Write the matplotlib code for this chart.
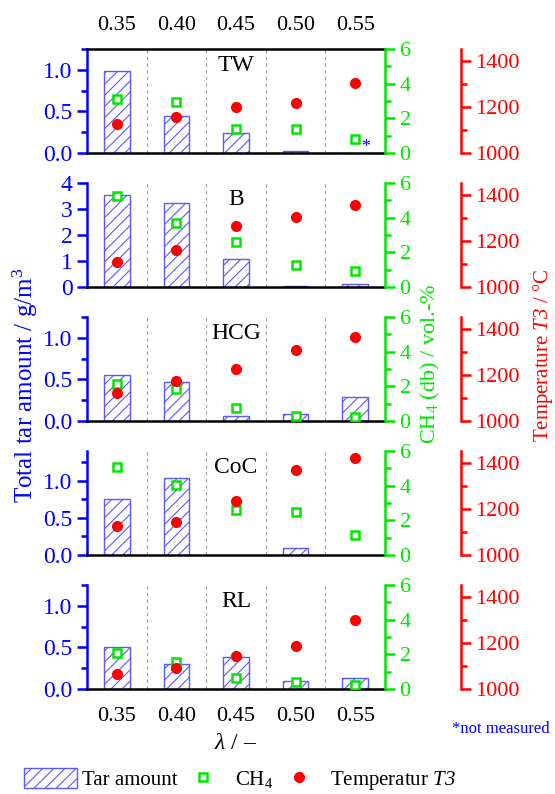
import matplotlib
matplotlib.use("Agg")
import matplotlib.pyplot as plt
import numpy as np
from matplotlib.patches import Patch
from matplotlib.lines import Line2D
from matplotlib.ticker import MultipleLocator

plt.rcParams['font.family'] = ['Liberation Serif', 'DejaVu Serif']
plt.rcParams['mathtext.fontset'] = 'custom'
plt.rcParams['mathtext.rm'] = 'Liberation Serif'
plt.rcParams['mathtext.it'] = 'Liberation Serif:italic'
plt.rcParams['mathtext.sf'] = 'Liberation Serif:italic'   # used for italic "T3" (digits too)
plt.rcParams['mathtext.bf'] = 'Liberation Serif:bold'
plt.rcParams['hatch.linewidth'] = 0.8

# data
lam = ['0.35', '0.40', '0.45', '0.50', '0.55']
fuels = ['TW', 'B', 'HCG', 'CoC', 'RL']

tar_TW = [0.98, 0.44, 0.24, 0.03, np.nan]
tar_B = [3.55, 3.22, 1.07, 0.03, 0.10]
tar_HCG = [0.55, 0.47, 0.06, 0.08, 0.29]
tar_CoC = [0.76, 1.04, np.nan, 0.09, np.nan]
tar_RL = [0.50, 0.30, 0.39, 0.10, 0.13]

ch4_TW = [3.13, 2.96, 1.38, 1.37, 0.83]
ch4_B = [5.23, 3.71, 2.61, 1.25, 0.92]
ch4_HCG = [2.13, 1.83, 0.77, 0.29, 0.25]
ch4_CoC = [5.05, 4.02, 2.58, 2.46, 1.16]
ch4_RL = [2.06, 1.55, 0.62, 0.43, 0.23]

t3_TW = [1124, 1155, 1199, 1216, 1304]
t3_B = [1108, 1162, 1264, 1301, 1354]
t3_HCG = [1123, 1172, 1224, 1307, 1362]
t3_CoC = [1125, 1143, 1234, 1369, 1419]
t3_RL = [1065, 1089, 1141, 1185, 1299]

tar_all = [tar_TW, tar_B, tar_HCG, tar_CoC, tar_RL]
ch4_all = [ch4_TW, ch4_B, ch4_HCG, ch4_CoC, ch4_RL]
t3_all = [t3_TW, t3_B, t3_HCG, t3_CoC, t3_RL]
tar_top = [1.25, 4.0, 1.25, 1.4, 1.25]
tar_major = [0.5, 1.0, 0.5, 0.5, 0.5]
tar_minor = [0.25, None, 0.25, 0.25, 0.25]

BLUE = '#0000ff'
BAR = '#5a5aff'
GREEN = '#00e600'
RED = '#ff0000'

W, H = 555, 794
fig = plt.figure(figsize=(W / 100, H / 100), dpi=100)

x = np.arange(len(lam))
left, right = 87, 385
for i, name in enumerate(fuels):
    top = 49 + i * 134
    bot = top + 104
    ax = fig.add_axes([left / W, 1 - bot / H, (right - left) / W, (bot - top) / H])

    ax.bar(x, tar_all[i], width=0.43, fill=False, edgecolor=BAR, hatch='///', linewidth=1.0, zorder=2)
    ax.set_xlim(-0.5, 4.5)
    ax.set_ylim(0, tar_top[i])
    ax.yaxis.set_major_locator(MultipleLocator(tar_major[i]))
    if tar_minor[i]:
        ax.yaxis.set_minor_locator(MultipleLocator(tar_minor[i]))
    for b in x[:-1] + 0.5:
        ax.axvline(b, color='#a0a0a0', ls=(0, (3, 3)), lw=0.8, zorder=1)

    ax.spines['left'].set_color(BLUE)
    ax.spines['left'].set_linewidth(1.8)
    ax.spines['bottom'].set_linewidth(1.8)
    ax.spines['right'].set_visible(False)
    ax.spines['top'].set_visible(i == 0)
    ax.spines['top'].set_linewidth(1.8)
    ax.tick_params(axis='y', which='both', colors=BLUE, width=1.8, labelsize=17, direction='out')
    ax.tick_params(axis='y', which='major', length=7)
    ax.tick_params(axis='y', which='minor', length=4)
    ax.set_xticks(x)
    ax.set_xticklabels(lam)
    ax.tick_params(axis='x', length=0, labelsize=16, pad=13)
    if i == 0:
        ax.xaxis.tick_top()
        ax.tick_params(axis='x', length=0, pad=10)
    elif i < len(fuels) - 1:
        ax.tick_params(axis='x', labelbottom=False)
    ax.text(2, tar_top[i] * 0.84, name, ha='center', va='center', fontsize=17)

    # CH4 axis
    ax2 = ax.twinx()
    ax2.set_ylim(0, 6)
    ax2.yaxis.set_major_locator(MultipleLocator(2))
    ax2.yaxis.set_minor_locator(MultipleLocator(1))
    for s in ['left', 'top', 'bottom']:
        ax2.spines[s].set_visible(False)
    ax2.spines['right'].set_color(GREEN)
    ax2.spines['right'].set_linewidth(1.8)
    ax2.tick_params(axis='y', which='both', colors=GREEN, width=1.8, labelsize=16)
    ax2.tick_params(axis='y', which='major', length=7)
    ax2.tick_params(axis='y', which='minor', length=4)
    ax2.plot(x, ch4_all[i], ls='none', marker='s', ms=5.5, mfc='white', mec=GREEN, mew=1.8, zorder=3)

    # temperature axis
    ax3 = ax.twinx()
    ax3.set_ylim(1000, 1450)
    ax3.yaxis.set_major_locator(MultipleLocator(200))
    ax3.yaxis.set_minor_locator(MultipleLocator(100))
    for s in ['left', 'top', 'bottom']:
        ax3.spines[s].set_visible(False)
    ax3.spines['right'].set_position(('axes', 1 + 76 / (right - left)))
    ax3.spines['right'].set_color(RED)
    ax3.spines['right'].set_linewidth(1.8)
    ax3.tick_params(axis='y', which='both', colors=RED, width=1.8, labelsize=16)
    ax3.tick_params(axis='y', which='major', length=7)
    ax3.tick_params(axis='y', which='minor', length=4)
    ax3.plot(x, t3_all[i], ls='none', marker='o', ms=7, color=RED, zorder=4)

    if i == 0:
        ax.text(4.17, 0.07, '*', color=BLUE, fontsize=13, ha='center', va='center')
    if i == len(fuels) - 1:
        ax.set_xlabel(r'$\lambda$ / –', fontsize=17, labelpad=5)

fig.text(25 / W, 1 - 385 / H, 'Total tar amount / g/m$^3$', rotation=90, ha='center', va='center',
         color=BLUE, fontsize=18)
fig.text(430 / W, 1 - 364 / H, 'CH$_4$ (db) / vol.-%', rotation=90, ha='center', va='center',
         color=GREEN, fontsize=16)
fig.text(543 / W, 1 - 355 / H, r'Temperature $\mathsf{T3}$ / °C', rotation=90, ha='center', va='center',
         color=RED, fontsize=15)
fig.text(550 / W, 1 - 729 / H, '*not measured', ha='right', va='center', color=BLUE, fontsize=12)

handles = [Patch(fill=False, edgecolor=BAR, hatch='///', linewidth=1.0),
           Line2D([], [], ls='none', marker='s', ms=5.5, mfc='white', mec=GREEN, mew=1.8),
           Line2D([], [], ls='none', marker='o', ms=7, color=RED)]
fig.legend(handles, ['Tar amount', 'CH$_4$', r'Temperatur $\mathsf{T3}$'], loc='center left',
           bbox_to_anchor=(14 / W, 1 - 780 / H), ncol=3, frameon=False, fontsize=15,
           handlelength=2.5, handleheight=1.1, handletextpad=0.25, columnspacing=0.0, borderpad=0)

fig.savefig('out.png', dpi=100)
